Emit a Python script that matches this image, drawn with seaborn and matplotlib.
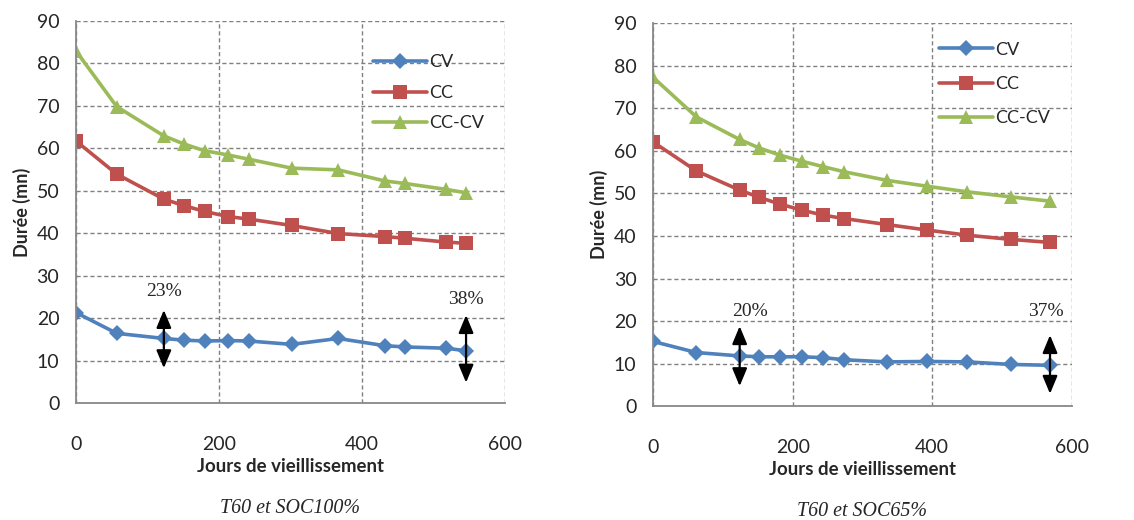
import numpy as np
import pandas as pd
import matplotlib
matplotlib.use("Agg")
import matplotlib.pyplot as plt
import seaborn as sns

# --- Données ---
jours_100 = [0, 57, 123, 151, 180, 213, 242, 302, 367, 432, 460, 518, 546]
cv_100 = [21.3, 16.4, 15.2, 14.8, 14.6, 14.7, 14.6, 13.8, 15.2, 13.5, 13.2, 12.9, 12.3]
cc_100 = [61.7, 53.9, 48.0, 46.5, 45.1, 43.9, 43.3, 41.8, 39.9, 39.2, 38.8, 37.9, 37.6]
cccv_100 = [82.9, 69.8, 62.9, 61.0, 59.4, 58.4, 57.4, 55.3, 54.9, 52.3, 51.7, 50.3, 49.5]

jours_65 = [0, 62, 124, 152, 182, 213, 244, 274, 335, 393, 450, 513, 569]
cv_65 = [15.2, 12.6, 11.8, 11.6, 11.6, 11.6, 11.4, 10.9, 10.4, 10.5, 10.4, 9.8, 9.6]
cc_65 = [62.1, 55.3, 50.8, 49.1, 47.5, 46.1, 44.9, 44.1, 42.7, 41.4, 40.2, 39.2, 38.5]
cccv_65 = [77.3, 68.0, 62.7, 60.7, 59.0, 57.6, 56.3, 55.1, 53.1, 51.7, 50.4, 49.2, 48.2]

# flèches (x, y bas, y haut) et étiquettes (x, y, texte)
fleches_100 = [(123, 8.2, 21.9), (546, 4.8, 20.7)]
textes_100 = [(123, 26.2, '23%'), (546, 24.3, '38%')]
fleches_65 = [(124, 4.7, 18.8), (569, 2.9, 16.7)]
textes_65 = [(139, 22.3, '20%'), (563, 22.3, '37%')]

titres = ['T60 et SOC100%', 'T60 et SOC65%']

couleurs = {'CV': '#4F81BD', 'CC': '#C0504D', 'CC-CV': '#9BBB59'}
marqueurs = {'CV': 'D', 'CC': 's', 'CC-CV': '^'}
tailles = {'CV': 8, 'CC': 9.5, 'CC-CV': 10}

sns.set_style("white")
plt.rcParams['font.family'] = ['Lato', 'DejaVu Sans']


def trace_panneau(ax, jours, series, fleches, textes, titre, pos_legende, espace):
    for nom, vals in series.items():
        sns.lineplot(x=jours, y=vals, ax=ax, color=couleurs[nom], marker=marqueurs[nom],
                     markersize=tailles[nom], markeredgewidth=0, linewidth=2.6, label=nom)
    ax.set_xlim(0, 600)
    ax.set_ylim(0, 90)
    ax.set_xticks([0, 200, 400, 600])
    ax.set_yticks(range(0, 91, 10))
    ax.grid(True, color='#808080', linestyle=(0, (3, 2)), linewidth=1.0)
    for s in ['top', 'right']:
        ax.spines[s].set_visible(False)
    for s in ['left', 'bottom']:
        ax.spines[s].set_color('#888888')
        ax.spines[s].set_linewidth(1.3)
    ax.tick_params(axis='x', length=0, pad=24, labelsize=14)
    ax.tick_params(axis='y', length=0, pad=12, labelsize=14)
    ax.set_xlabel('Jours de vieillissement', fontsize=13.4, fontweight='bold', labelpad=3)
    ax.set_ylabel('Durée (mn)', fontsize=13, fontweight='bold', labelpad=4)
    ax.legend(loc='upper left', bbox_to_anchor=pos_legende, frameon=False, fontsize=13,
              handlelength=3.0, handletextpad=0.15, labelspacing=espace,
              borderpad=0, borderaxespad=0)
    for x, y0, y1 in fleches:
        ax.annotate('', xy=(x, y0), xytext=(x, y1),
                    arrowprops=dict(arrowstyle='<|-|>,head_length=0.6,head_width=0.25',
                                    color='black', lw=1.6, mutation_scale=18,
                                    shrinkA=0, shrinkB=0))
    for x, y, t in textes:
        ax.text(x, y, t, ha='center', va='center', fontsize=14, family='Liberation Serif')
    ax.text(0.5, -0.275, titre, transform=ax.transAxes, ha='center', va='center',
            fontsize=14.4, family='Liberation Serif', style='italic')


fig = plt.figure(figsize=(11.34, 5.2), dpi=100)
ax1 = fig.add_axes([0.067, 0.225, 0.378, 0.735])
ax2 = fig.add_axes([0.576, 0.219, 0.369, 0.736])

trace_panneau(ax1, jours_100, {'CV': cv_100, 'CC': cc_100, 'CC-CV': cccv_100},
              fleches_100, textes_100, titres[0], (0.692, 0.912), 0.8)
trace_panneau(ax2, jours_65, {'CV': cv_65, 'CC': cc_65, 'CC-CV': cccv_65},
              fleches_65, textes_65, titres[1], (0.682, 0.952), 1.0)

fig.savefig('out.png', dpi=100)
